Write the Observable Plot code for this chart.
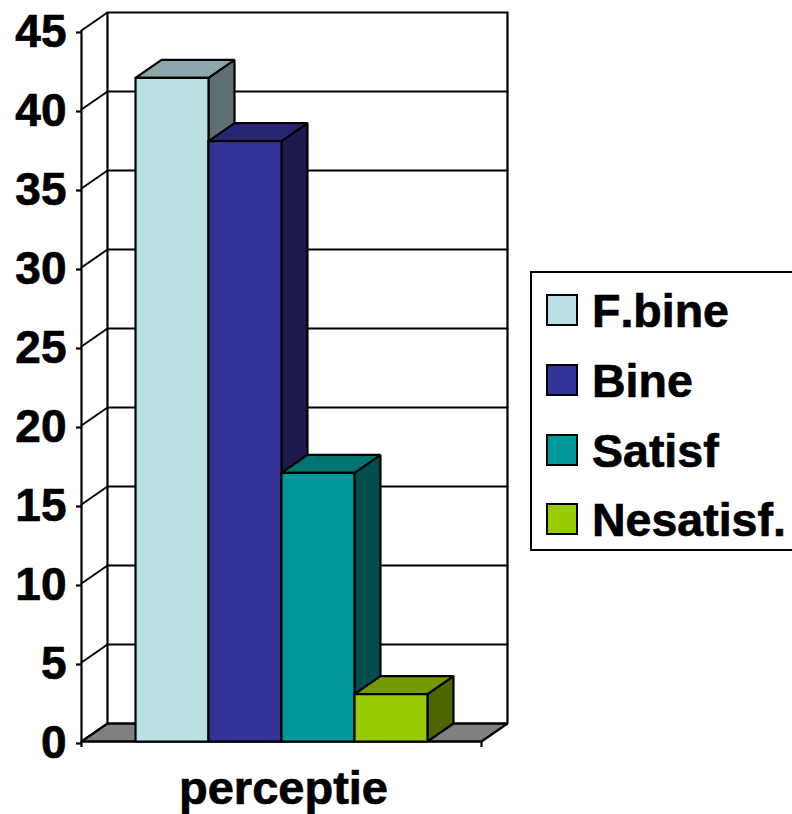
<!DOCTYPE html>
<html>
<head>
<meta charset="utf-8">
<script src="https://cdn.jsdelivr.net/npm/d3@7"></script>
<script src="https://cdn.jsdelivr.net/npm/@observablehq/plot@0.6"></script>
<style>
html,body{margin:0;padding:0;background:#fff;overflow:hidden}
#wrap{position:relative;width:792px;height:814px;font-family:"Liberation Sans",Arial,sans-serif;font-weight:700;color:#000;font-kerning:none}
#legend{position:absolute;left:530px;top:271px;width:270px;height:280px;border:2px solid #000;box-sizing:border-box;background:#fff}
.sw{position:absolute;left:546px;width:32px;height:32px;border:2.5px solid #000;box-sizing:border-box}
.lb{position:absolute;left:592px;font-size:46.5px;line-height:52px;white-space:nowrap;-webkit-text-stroke:.7px #000;font-kerning:none}
svg{position:absolute;left:0;top:0}
svg text{stroke:#000;stroke-width:.7px;font-kerning:none}
</style>
</head>
<body>
<div id="wrap"></div>
<script>
const categories = ["F.bine", "Bine", "Satisf", "Nesatisf."];
const values = [42, 38, 17, 3];
const frontColors = ["#BBE0E3", "#333399", "#009999", "#99CC00"];
const topColors = ["#8CA8AA", "#262673", "#007373", "#739900"];
const sideColors = ["#5E7072", "#1A1A4D", "#004D4D", "#4D6600"];
const yTicks = [0, 5, 10, 15, 20, 25, 30, 35, 40, 45];
const axisLabel = "perceptie";
const legendTops = [294, 364, 434, 503];

const depthX = 0.356, depthY = 1.14;
const gap = 0.74, xMin = -gap, xMax = categories.length + gap, yMax = 45;

function poly(id, fill, pts) {
  return [...pts, pts[0]].map(([x, y]) => ({id, fill, x, y}));
}
const floor = poly("floor", "#808080", [[xMin, 0], [xMin + depthX, depthY], [xMax + depthX, depthY], [xMax, 0]]);
const gridBack = yTicks.flatMap(t => [
  {id: t, x: xMin, y: t},
  {id: t, x: xMin + depthX, y: t + depthY},
  {id: t, x: xMax + depthX, y: t + depthY}
]);
const faces = values.flatMap((v, i) => [
  ...poly("side" + i, sideColors[i], [[i + 1, 0], [i + 1 + depthX, depthY], [i + 1 + depthX, v + depthY], [i + 1, v]]),
  ...poly("top" + i, topColors[i], [[i, v], [i + depthX, v + depthY], [i + 1 + depthX, v + depthY], [i + 1, v]]),
  ...poly("front" + i, frontColors[i], [[i, 0], [i, v], [i + 1, v], [i + 1, 0]])
]);
const sw = 2.2;

const chart = Plot.plot({
  width: 792, height: 814,
  marginLeft: 0, marginRight: 0, marginTop: 0, marginBottom: 0,
  x: {domain: [xMin, xMax], range: [81, 481], axis: null},
  y: {domain: [0, yMax], range: [741, 30], axis: null},
  color: {type: "identity"},
  style: {fontFamily: "'Liberation Sans', Arial, sans-serif", background: "#fff", overflow: "visible"},
  marks: [
    Plot.line(floor, {x: "x", y: "y", z: "id", fill: "fill", stroke: "#000", strokeWidth: sw, strokeLinejoin: "miter"}),
    Plot.line(gridBack, {x: "x", y: "y", z: "id", stroke: "#000", strokeWidth: 2, strokeLinejoin: "miter"}),
    Plot.ruleX([xMin + depthX, xMax + depthX], {y1: depthY, y2: yMax + depthY, stroke: "#000", strokeWidth: sw}),
    Plot.ruleX([xMin], {y1: 0, y2: yMax, stroke: "#000", strokeWidth: sw}),
    Plot.ruleY([0], {x1: xMin, x2: xMax, stroke: "#000", strokeWidth: sw}),
    Plot.line(faces, {x: "x", y: "y", z: "id", fill: "fill", stroke: "#000", strokeWidth: sw, strokeLinejoin: "miter"}),
    Plot.axisY(yTicks, {anchor: "left", x: xMin, label: null, tickSize: 5, tickPadding: 10, dy: 2, fontSize: 46, fontWeight: 700, stroke: "#000", strokeWidth: sw, fill: "#000", tickFormat: d => String(d)}),
    Plot.axisX([2], {anchor: "bottom", y: 0, label: null, tickSize: 0, tickPadding: 29, dx: 2, fontSize: 47, fontWeight: 700, fill: "#000", tickFormat: () => axisLabel}),
    Plot.axisX([xMin, xMax], {anchor: "bottom", y: 0, label: null, tickSize: 6, stroke: "#000", strokeWidth: sw, tickFormat: () => ""})
  ]
});

const wrap = document.getElementById("wrap");
wrap.appendChild(chart);
const box = document.createElement("div");
box.id = "legend";
wrap.appendChild(box);
categories.forEach((c, i) => {
  const s = document.createElement("div");
  s.className = "sw";
  s.style.top = legendTops[i] + "px";
  s.style.background = frontColors[i];
  wrap.appendChild(s);
  const l = document.createElement("div");
  l.className = "lb";
  l.style.top = (legendTops[i] - 9) + "px";
  l.textContent = c;
  wrap.appendChild(l);
});
</script>
</body>
</html>
